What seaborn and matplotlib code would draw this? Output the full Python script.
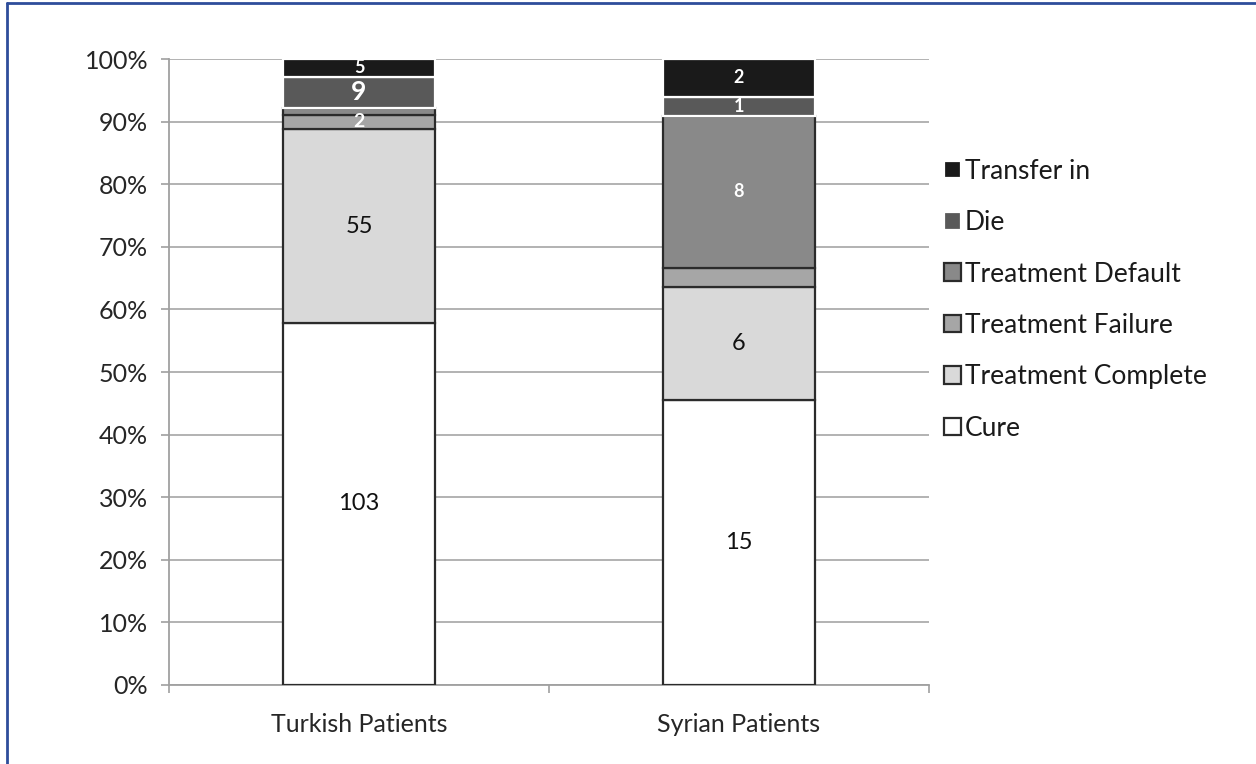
import numpy as np
import pandas as pd
import matplotlib
matplotlib.use('Agg')
import matplotlib.pyplot as plt
from matplotlib.lines import Line2D
import seaborn as sns

groups = ['Turkish Patients', 'Syrian Patients']
outcomes = ['Cure', 'Treatment Complete', 'Treatment Failure',
            'Treatment Default', 'Die', 'Transfer in']
turkish = [103, 55, 4, 2, 9, 5]
syrian = [15, 6, 1, 8, 1, 2]

colors = ['#ffffff', '#d9d9d9', '#a6a6a6', '#898989', '#595959', '#1a1a1a']
edges = ['#2b2b2b', '#2b2b2b', '#2b2b2b', '#2b2b2b', '#ffffff', '#ffffff']

# which segments carry a label: (group, outcome) -> (text colour, size, y nudge in %)
labels = {
    (0, 0): ('#111111', 17, 0), (0, 1): ('#111111', 17, 0),
    (0, 3): ('white', 14, -1.6), (0, 4): ('white', 19, 0), (0, 5): ('white', 13, 0),
    (1, 0): ('#111111', 17, 0), (1, 1): ('#111111', 17, 0),
    (1, 3): ('white', 13, 0), (1, 4): ('white', 13, 0), (1, 5): ('white', 13, 0),
}

counts = np.array([turkish, syrian], dtype=float)
pct = counts / counts.sum(axis=1, keepdims=True) * 100
bottoms = np.cumsum(pct, axis=1) - pct

sns.set_style('white')
plt.rcParams['font.family'] = ['Lato', 'DejaVu Sans']

fig = plt.figure(figsize=(12.56, 7.64), dpi=100)
ax = fig.add_axes([169 / 1256, 1 - 685 / 764, 760 / 1256, 626 / 764])

ax.yaxis.grid(True, color='#a6a6a6', lw=1.2)
ax.set_axisbelow(True)

for j, name in enumerate(outcomes):
    df = pd.DataFrame({'group': groups, 'pct': pct[:, j], 'bottom': bottoms[:, j]})
    sns.barplot(data=df, x='group', y='pct', bottom=df['bottom'], ax=ax,
                color=colors[j], edgecolor=edges[j], linewidth=1.6,
                width=0.4, label=name, saturation=1, zorder=3, legend=False)

for (g, j), (tc, fs, nudge) in labels.items():
    yc = bottoms[g, j] + pct[g, j] / 2 + nudge
    weight = 'bold' if tc == 'white' else 'normal'
    ax.text(g, yc, f'{int(counts[g, j])}', ha='center', va='center',
            color=tc, fontsize=fs, fontweight=weight, zorder=5)

ax.set_xlim(-0.5, 1.5)
ax.set_ylim(0, 100)
ax.set_yticks(np.arange(0, 101, 10))
ax.set_yticklabels([f'{v}%' for v in range(0, 101, 10)])
ax.set_xlabel('')
ax.set_ylabel('')

for s in ['top', 'right']:
    ax.spines[s].set_visible(False)
for s in ['left', 'bottom']:
    ax.spines[s].set_color('#a0a0a0')
    ax.spines[s].set_linewidth(1.3)

ax.tick_params(axis='y', which='major', direction='out', length=6, width=1.2,
               color='#a0a0a0', labelsize=18, labelcolor='#262626', pad=9, left=True)
ax.tick_params(axis='x', which='major', length=0, labelsize=18,
               labelcolor='#262626', pad=20)
ax.set_xticks([-0.5, 0.5, 1.5], minor=True)
ax.tick_params(axis='x', which='minor', direction='out', length=6, width=1.2,
               color='#a0a0a0', bottom=True)

handles, labs = ax.get_legend_handles_labels()
if ax.get_legend() is not None:
    ax.get_legend().remove()
leg = fig.legend(handles[::-1], labs[::-1], loc='upper left',
                 bbox_to_anchor=(920 / 1256, 1 - 135 / 764), frameon=False,
                 fontsize=19, handlelength=0.65, handleheight=0.65,
                 handletextpad=0.15, labelspacing=1.0)
for t in leg.get_texts():
    t.set_color('#1a1a1a')

# blue frame lines at the top and left edge
fig.add_artist(Line2D([7 / 1256, 7 / 1256], [0, 1 - 3 / 764],
                      transform=fig.transFigure, color='#2e4d9b', lw=2))
fig.add_artist(Line2D([7 / 1256, 1], [1 - 3 / 764, 1 - 3 / 764],
                      transform=fig.transFigure, color='#2e4d9b', lw=2))

fig.savefig('out.png', dpi=100, facecolor='white')
